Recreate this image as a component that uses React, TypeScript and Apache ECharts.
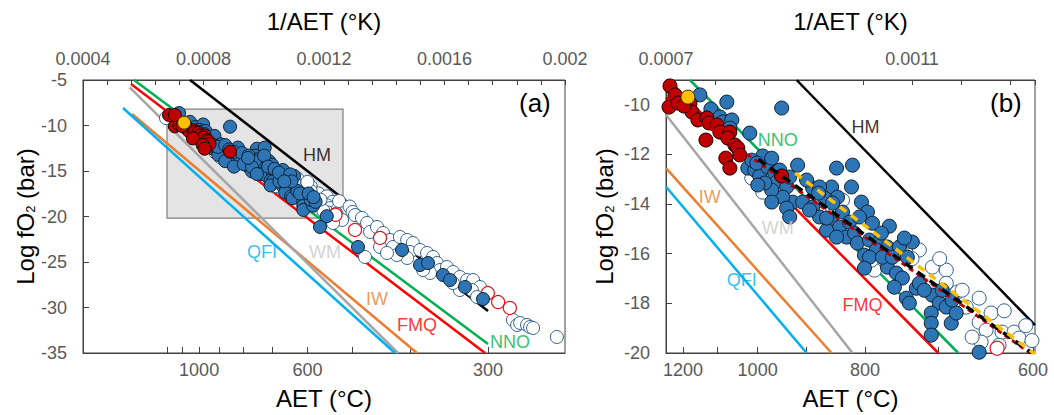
import React, { useEffect, useRef } from "react";
import * as echarts from "echarts";

type P = [number, number];

// x = 1/AET in units of 1e-4 K^-1 ; y = log fO2 (bar)
const blueFilled: P[] = [
  [7.551, -9.6], [7.73, -10.17], [7.989, -9.89], [8.881, -10.13], [7.876, -10.49], [7.924, -10.69],
  [8.07, -10.61], [8.038, -10.94], [8.362, -11.14], [8.573, -12.06], [8.33, -12.55], [8.443, -12.63],
  [8.524, -12.87], [8.654, -12.51], [8.767, -12.75], [8.8, -13.11], [8.962, -13.31], [9.14, -12.43],
  [9.059, -13.92], [8.897, -13.72], [8.719, -13.44], [8.605, -13.15], [8.492, -13.23], [8.962, -14.16],
  [9.773, -12.55], [10.032, -12.43], [9.384, -13.35], [9.692, -13.31], [9.222, -13.92], [9.578, -13.76],
  [9.789, -13.72], [9.384, -14.12], [9.87, -14.32], [10.178, -13.92], [10.276, -14.32], [9.497, -14.52],
  [9.692, -14.73], [9.821, -14.93], [9.984, -14.73], [9.611, -15.05], [9.935, -15.33], [10.065, -15.17],
  [10.113, -15.57], [10.308, -15.45], [10.47, -15.53], [10.632, -14.89], [10.421, -15.85], [10.6, -15.73],
  [10.794, -15.73], [11.005, -15.53], [10.227, -16.06], [10.308, -16.14], [10.227, -16.58], [10.6, -16.54],
  [10.746, -16.78], [10.843, -16.98], [10.713, -17.35], [11.07, -17.39], [10.908, -17.79], [10.957, -17.99],
  [11.33, -17.67], [11.443, -17.99], [11.313, -18.39], [11.313, -18.8], [11.313, -19.28], [11.638, -18.8],
  [11.557, -18.15], [11.719, -18.39], [12.092, -19.97], [11.119, -17.19], [10.519, -16.14],
  [8.395, -12.23], [8.476, -12.35], [8.719, -12.15], [8.849, -12.63], [9.011, -12.91], [9.286, -13.03],
  [9.497, -13.31], [8.719, -13.92], [9.011, -14.52], [9.335, -14.24], [9.708, -13.96], [9.611, -14.56],
  [9.481, -13.56], [10.016, -13.31], [10.146, -14.52], [9.773, -15.33], [10.357, -14.77], [10.503, -15.17],
  [10.876, -15.37], [10.924, -16.14], [10.681, -16.14], [11.2, -17.47], [11.492, -17.47], [11.654, -17.87],
  [11.867, -21.15], [13.129, -23.35], [14.59, -23.68], [15.187, -25.33], [15.452, -25.11], [15.95, -26.43],
  [16.183, -26.98], [16.68, -27.75], [17.278, -29.07], [7.19, -8.63],
];

const blueOpen: P[] = [
  [8.395, -12.95], [8.573, -13.52], [9.87, -13.84], [9.708, -14.16], [11.119, -15.85], [11.33, -16.54],
  [11.557, -16.66], [11.735, -17.55], [11.816, -17.47], [12.092, -17.79], [12.286, -18.39], [12.092, -18.76],
  [12.205, -19.08], [12.124, -19.56], [12.464, -19.16], [12.659, -19.16], [12.74, -19.4], [11.978, -19.36],
  [10.389, -16.66], [10.843, -15.98], [11.557, -17.19], [11.881, -18.15], [12.416, -19.69], [10.34, -16.26],
  [12.5, -18.3], [12.85, -18.9], [12.95, -19.5], [11.0, -16.2], [11.45, -16.2],
  [13.03, -19.84], [13.26, -20.16], [13.43, -20.71], [13.53, -21.7], [13.76, -21.15], [13.96, -21.81],
  [14.19, -22.58], [13.86, -23.35], [14.29, -23.35], [14.52, -22.25], [14.76, -22.58], [14.95, -22.91],
  [14.85, -23.9], [15.19, -23.68], [15.42, -24.01], [15.62, -24.45], [15.75, -25.11], [15.85, -25.88],
  [16.08, -25.55], [16.28, -26.1], [16.51, -26.65], [16.75, -26.98], [16.95, -26.98], [17.18, -27.75],
  [16.91, -28.08], [16.51, -28.08], [16.28, -27.31], [15.52, -26.21], [15.29, -25.88], [14.76, -24.56],
  [14.42, -24.23], [14.09, -24.01], [13.36, -24.45], [12.6, -20.38], [12.3, -20.71], [18.27, -31.37],
  [18.41, -31.92], [18.51, -31.7], [18.74, -31.92], [18.84, -32.14], [18.94, -32.25], [19.73, -33.24],
  [17.08, -28.85], [6.755, -9.18],
];

const redFilled: P[] = [
  [7.065, -9.24], [7.146, -9.6], [7.049, -10.09], [7.195, -9.93], [7.389, -9.93], [7.422, -10.29],
  [7.519, -10.61], [7.665, -10.53], [7.697, -10.73], [7.827, -10.81], [7.876, -11.1], [8.038, -11.1],
  [8.005, -11.34], [8.119, -11.62], [8.167, -11.74], [8.2, -12.02], [7.649, -11.42], [7.973, -12.15],
  [8.038, -12.55], [8.881, -12.87], [7.292, -10.05], [6.855, -8.85], [7.05, -8.85],
];

const redOpen: P[] = [
  [12.384, -19.81], [13.03, -21.48], [13.86, -22.36], [17.44, -28.41], [17.78, -29.4], [18.17, -30.05],
];

const yellowPts: P[] = [[7.357, -9.69]];

// Buffer lines, panel (a)
const hmA: P[] = [[7.552, -5], [17.444, -30.38]];
const nnoA: P[] = [[5.693, -5], [17.444, -34.01]];
const fmqA: P[] = [[5.593, -5.44], [17.344, -35]];
const iwA: P[] = [[5.627, -8.74], [15.087, -35]];
const wmA: P[] = [[5.55, -5.8], [14.456, -35]];
const qfiA: P[] = [[5.328, -8.08], [14.357, -35]];

// Buffer lines, panel (b)
const hmB: P[] = [[9.124, -9], [13, -18.88]];
const nnoB: P[] = [[7.389, -9], [11.751, -20]];
const fmqB: P[] = [[7.04, -9], [11.427, -20]];
const iwB: P[] = [[7.0, -12.55], [9.692, -20]];
const wmB: P[] = [[7.0, -10.4], [10.032, -20]];
const qfiB: P[] = [[7.0, -13.3], [9.286, -20]];

// Regression lines, panel (b)
const fitRed: P[] = [[7.0, -9.7], [12.902, -19.97]];
const fitAll: P[] = [[8.5, -12.2], [12.951, -20.0]];
const fitYellow: P[] = [[9.1, -12.75], [13.0, -20.05]];

// Shaded window of panel (b) drawn in panel (a)
const zoomBox: P[] = [[6.788, -8.19], [12.631, -20.17]];

const bufferNames = ["HM", "NNO", "FMQ", "IW", "WM", "QFI"];
const labelPosA: P[] = [[11.768, -13.24], [18.174, -33.79], [15.087, -31.92], [13.76, -29.07], [12.03, -23.9], [9.94, -23.9]];
const labelPosB: P[] = [[10.243, -10.9], [8.816, -11.42], [10.194, -18.07], [7.713, -13.72], [8.816, -14.97], [8.232, -17.06]];

const aetTicksA = [1200, 1100, 1000, 900, 800, 700, 600, 500, 400, 300];
const aetLabelsA = [1000, 600, 300];
const aetTicksB = [1200, 1100, 1000, 900, 800, 700, 600];
const aetLabelsB = [1200, 1000, 800, 600];

const FONT = "'Liberation Sans', Arial, sans-serif";
const lineColor: Record<string, string> = {
  HM: "#000000", NNO: "#00B050", FMQ: "#FF0000", IW: "#ED7D31", WM: "#A6A6A6", QFI: "#00B0F0",
};
const textColor: Record<string, string> = { ...lineColor, WM: "#C8C8C8" };

const K0 = 273.15;
const KB = 110; // offset of the drawn AET scale in panel (b)

export default function App() {
  const ref = useRef<HTMLDivElement>(null);
  useEffect(() => {
    if (!ref.current) return;
    const chart = echarts.init(ref.current, undefined, { renderer: "svg" });

    const axisLineStyle = { color: "#404040", width: 1 };
    const labelStyle = { fontSize: 18, color: "#595959", fontFamily: FONT };
    const nameStyle = { fontSize: 24, color: "#000", fontFamily: FONT };
    const yName = {
      fontSize: 24, color: "#000", fontFamily: FONT,
      rich: { sub: { fontSize: 13, color: "#000", fontFamily: FONT, verticalAlign: "bottom" } },
    };

    const topAxis = (grid: number, min: number, max: number) => ({
      type: "value", gridIndex: grid, position: "top", min, max, interval: 4,
      name: "1/AET (°K)", nameLocation: "middle", nameGap: 47, nameTextStyle: nameStyle,
      axisLine: { show: true, lineStyle: axisLineStyle },
      axisTick: { show: true, inside: true, length: 5, lineStyle: axisLineStyle },
      minorTick: { show: true, splitNumber: 5, length: 5, lineStyle: axisLineStyle },
      axisLabel: { ...labelStyle, margin: 12, showMaxLabel: grid === 0, formatter: (v: number) => String(v / 1e4) },
      splitLine: { show: false },
    });
    const bottomAxis = (grid: number, min: number, max: number, ticks: number[], labels: number[], off: number) => ({
      type: "value", gridIndex: grid, position: "bottom", min, max,
      name: "AET (°C)", nameLocation: "middle", nameGap: 33, nameTextStyle: nameStyle,
      axisLine: { show: true, lineStyle: axisLineStyle },
      axisTick: { show: true, inside: true, length: 6, lineStyle: axisLineStyle, customValues: ticks.map((t) => 1e4 / (t + off)) },
      axisLabel: {
        ...labelStyle, margin: 8, customValues: labels.map((t) => 1e4 / (t + off)),
        formatter: (v: number) => String(Math.round(1e4 / v - off)),
      },
      splitLine: { show: false },
    });
    const yAxis = (grid: number, min: number, max: number, interval: number, gap: number) => ({
      type: "value", gridIndex: grid, min, max, interval,
      name: "Log fO{sub|2} (bar)", nameLocation: "middle", nameRotate: 90, nameGap: gap, nameTextStyle: yName,
      axisLine: { show: true, lineStyle: axisLineStyle },
      axisTick: { show: true, inside: true, length: 6, lineStyle: axisLineStyle },
      axisLabel: { ...labelStyle, margin: 16, showMaxLabel: grid === 0 },
      splitLine: { show: false },
    });

    const series: any[] = [];
    const addPanel = (xi: number, yi: number, lines: P[][], labelPos: P[], big: boolean) => {
      lines.forEach((pts, i) => {
        series.push({
          type: "line", xAxisIndex: xi, yAxisIndex: yi, data: pts, showSymbol: false, symbol: "none",
          lineStyle: { color: lineColor[bufferNames[i]], width: 2.5 }, z: 2, silent: true, clip: true,
        });
      });
      const size = big ? 14 : 13;
      const pt = (data: P[], fill: string, border: string, bw: number, z: number) => ({
        type: "scatter", xAxisIndex: xi, yAxisIndex: yi, data, symbol: "circle", symbolSize: size,
        itemStyle: { color: fill, borderColor: border, borderWidth: bw, opacity: 1 }, z, silent: true, clip: true,
      });
      series.push(pt(blueOpen, "#FFFFFF", "#2E5F8F", 1, 3));
      series.push(pt(redOpen, "#FFFFFF", "#E0141E", 1.2, 3));
      series.push(pt(blueFilled, "#2E75B6", "#10202F", 1, 4));
      series.push(pt(redFilled, "#C00000", "#1A0000", 1, 5));
      series.push(pt(yellowPts, "#FFC000", "#3A2A00", 1, 6));
      series.push({
        type: "scatter", xAxisIndex: xi, yAxisIndex: yi, symbolSize: 1, silent: true, z: 8,
        itemStyle: { color: "rgba(0,0,0,0)" },
        data: labelPos.map((p, i) => ({
          value: p, name: bufferNames[i],
          label: { show: true, position: "inside", formatter: "{b}", fontSize: 18, fontFamily: FONT, color: textColor[bufferNames[i]] },
        })),
      });
    };

    // shaded box in panel a
    series.push({
      type: "scatter", xAxisIndex: 0, yAxisIndex: 0, data: [], z: 1, silent: true,
      markArea: {
        silent: true, z: 1,
        itemStyle: { color: "#E4E4E4", borderColor: "#7F7F7F", borderWidth: 1.2 },
        data: [[{ coord: zoomBox[0] }, { coord: zoomBox[1] }]],
      },
    });
    addPanel(0, 0, [hmA, nnoA, fmqA, iwA, wmA, qfiA], labelPosA, false);
    addPanel(2, 1, [hmB, nnoB, fmqB, iwB, wmB, qfiB], labelPosB, true);

    const dashed = (pts: P[], color: string, width: number, dash: number[], z: number) => ({
      type: "line", xAxisIndex: 2, yAxisIndex: 1, data: pts, showSymbol: false, symbol: "none", silent: true, z,
      lineStyle: { color, width, type: dash },
    });
    series.push(dashed(fitRed, "#C00000", 3, [5, 4], 9));
    series.push(dashed(fitAll, "#000000", 3.5, [9, 6], 10));
    series.push(dashed(fitYellow, "#FFC000", 3.5, [8, 6], 11));

    chart.setOption({
      animation: false,
      grid: [
        { left: 83, top: 80, width: 482, height: 273, show: true, borderColor: "#404040", borderWidth: 1, backgroundColor: "transparent" },
        { left: 666, top: 80, width: 369, height: 273, show: true, borderColor: "#404040", borderWidth: 1, backgroundColor: "transparent" },
      ],
      xAxis: [
        topAxis(0, 4, 20),
        bottomAxis(0, 4, 20, aetTicksA, aetLabelsA, K0),
        topAxis(1, 7, 13),
        bottomAxis(1, 7.3203, 14.1214, aetTicksB, aetLabelsB, KB),
      ],
      yAxis: [yAxis(0, -35, -5, 5, 46), yAxis(1, -20, -9, 2, 50)],
      graphic: [
        { type: "text", left: 519, top: 90, style: { text: "(a)", fontSize: 26, fontFamily: FONT, fill: "#000" } },
        { type: "text", left: 990, top: 90, style: { text: "(b)", fontSize: 26, fontFamily: FONT, fill: "#000" } },
      ],
      series,
    });
    return () => chart.dispose();
  }, []);
  return <div ref={ref} style={{ position: "absolute", left: 0, top: 0, width: 1054, height: 415 }} />;
}
